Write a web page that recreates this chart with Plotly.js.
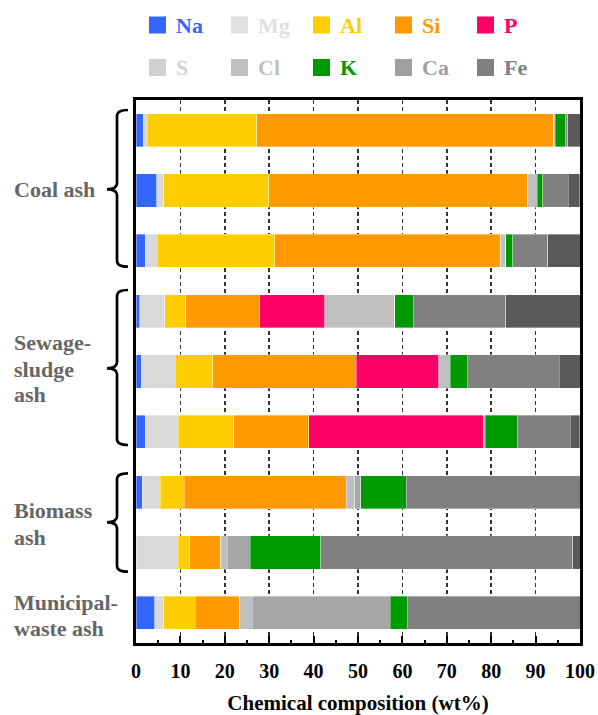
<!DOCTYPE html>
<html>
<head>
<meta charset="utf-8">
<script src="https://cdn.plot.ly/plotly-3.0.1.min.js"></script>
<style>html,body{margin:0;padding:0;background:#fff;}#chart{width:598px;height:715px;}</style>
</head>
<body>
<div id="chart"></div>
<script>
// ---- data ----
const samples = ['Coal ash 1','Coal ash 2','Coal ash 3','Sewage-sludge ash 1','Sewage-sludge ash 2','Sewage-sludge ash 3','Biomass ash 1','Biomass ash 2','Municipal-waste ash'];
const elements = ['Na','Mg','Al','Si','P','S','Cl','K','Ca','Fe'];
const Na = [1.65, 4.65, 2.1, 0.83, 1.2, 2.1, 1.43, 0, 4.2];
const Mg = [0.9, 1.58, 2.63, 5.7, 7.66, 7.36, 3.98, 9.53, 2.03];
const Al = [24.7, 23.7, 26.57, 4.66, 8.41, 12.54, 5.48, 2.63, 7.13];
const Si = [66.85, 58.25, 50.9, 16.66, 32.28, 16.96, 36.41, 6.98, 10.06];
const P  = [0, 0, 0, 14.64, 18.62, 39.27, 0, 0, 0];
const S  = [0.3, 2.2, 1.1, 15.84, 2.55, 0.45, 2.02, 1.43, 2.71];
const Cl = [0, 0, 0, 0, 0, 0, 1.28, 5.11, 31.15];
const K  = [2.4, 1.2, 1.6, 4.06, 3.83, 7.34, 10.21, 15.91, 3.76];
const Ca = [0.4, 5.8, 7.8, 20.94, 20.8, 11.78, 39.19, 56.76, 38.96];
const Fe = [2.8, 2.6, 7.3, 16.67, 4.65, 2.18, 0, 1.65, 0];
const groupLabels = [['Coal ash'], ['Sewage-','sludge','ash'], ['Biomass','ash'], ['Municipal-','waste ash']];
const xTickVals = [0,10,20,30,40,50,60,70,80,90,100];
const xTitle = 'Chemical composition (wt%)';

// ---- styles ----
const values = {Na, Mg, Al, Si, P, S, Cl, K, Ca, Fe};
const barColors = {Na:'#3366FF', Mg:'#D9D9D9', Al:'#FFCC00', Si:'#FF9900', P:'#FF0066', S:'#BFBFBF', Cl:'#A6A6A6', K:'#009900', Ca:'#808080', Fe:'#595959'};
const legendColors = {Na:'#3366FF', Mg:'#E0E0E0', Al:'#FFCC00', Si:'#FF9900', P:'#FF0066', S:'#D0D0D0', Cl:'#BFBFBF', K:'#009900', Ca:'#A0A0A0', Fe:'#808080'};
const FONT = '"Liberation Serif", "Times New Roman", serif';

const traces = elements.map(el => ({
  type: 'bar', orientation: 'h', name: el,
  y: samples, x: values[el],
  marker: {color: barColors[el], line: {width: 0.5, color: 'rgba(255,255,255,0.7)'}},
  showlegend: false, hoverinfo: 'name+x'
}));

// plot geometry (pixels)
const L = 136, T = 100, W = 444, H = 543;
const px = x => (x - L) / W;
const py = y => (T + H - y) / H;

const shapes = [];
const annotations = [];

// manual legend
const legX0 = [149, 231, 313, 395, 477];
const legY = [25, 67.5];
elements.forEach((el, i) => {
  const col = i % 5, row = Math.floor(i / 5);
  const x0 = legX0[col], yc = legY[row];
  shapes.push({type:'rect', xref:'paper', yref:'paper', x0:px(x0), x1:px(x0+17), y0:py(yc-8.5), y1:py(yc+8.5), fillcolor:legendColors[el], line:{width:0}});
  annotations.push({xref:'paper', yref:'paper', x:px(x0+25), y:py(yc), xanchor:'left', yanchor:'middle', showarrow:false,
    text:'<b>'+el+'</b>', font:{family:FONT, size:22, color:legendColors[el]}});
});

// braces
function brace(top, bottom, mid) {
  const xl = 117, xe = 128, xt = 107, r = 6;
  const p = (x, y) => px(x).toFixed(5) + ',' + py(y).toFixed(5);
  return 'M' + p(xe, top) + ' Q' + p(xl, top) + ' ' + p(xl, top + r) +
         ' L' + p(xl, mid - r) + ' Q' + p(xl, mid) + ' ' + p(xt, mid) +
         ' Q' + p(xl, mid) + ' ' + p(xl, mid + r) +
         ' L' + p(xl, bottom - r) + ' Q' + p(xl, bottom) + ' ' + p(xe, bottom);
}
[[110, 266.7, 189.3], [290, 445, 368.3], [473.3, 571.7, 522.3]].forEach(b => {
  shapes.push({type:'path', xref:'paper', yref:'paper', path: brace(b[0], b[1], b[2]), line:{color:'#000', width:2.7}});
});

// group labels (one annotation per line)
const labelCenters = [[189.3], [342.6, 369.3, 394.3], [510.6, 537.6], [602.6, 628.3]];
groupLabels.forEach((lines, g) => {
  lines.forEach((t, k) => {
    annotations.push({xref:'paper', yref:'paper', x:px(12), y:py(labelCenters[g][k]), xanchor:'left', yanchor:'middle', showarrow:false,
      text:'<b>'+t+'</b>', font:{family:FONT, size:22, color:'#666666'}});
  });
});

const layout = {
  width: 598, height: 715,
  margin: {l: L, r: 598 - L - W, t: T, b: 715 - T - H, pad: 0},
  paper_bgcolor: '#fff', plot_bgcolor: '#fff',
  barmode: 'stack', bargap: 0.45,
  showlegend: false,
  font: {family: FONT, color: '#000'},
  xaxis: {
    range: [0, 100], tickvals: xTickVals, ticktext: xTickVals.map(v => '<b>'+v+'</b>'),
    tickfont: {family: FONT, size: 20, color: '#000'},
    ticks: 'inside', ticklen: 7, tickwidth: 2, tickcolor: '#000', ticklabelstandoff: 8,
    minor: {dtick: 5, tick0: 0, ticks: 'inside', ticklen: 3, tickwidth: 2, tickcolor: '#000', showgrid: false},
    showgrid: true, gridcolor: '#333', gridwidth: 1.5, griddash: '4px,3px',
    zeroline: false, showline: true, linecolor: '#000', linewidth: 3, mirror: true,
    title: {text: '<b>'+xTitle+'</b>', font: {family: FONT, size: 21, color: '#000'}, standoff: 15}
  },
  yaxis: {
    type: 'category', autorange: 'reversed', showticklabels: false, ticks: '',
    showgrid: false, zeroline: false, showline: true, linecolor: '#000', linewidth: 3, mirror: true
  },
  shapes, annotations
};

Plotly.newPlot('chart', traces, layout, {displayModeBar: false, staticPlot: true});
</script>
</body>
</html>
